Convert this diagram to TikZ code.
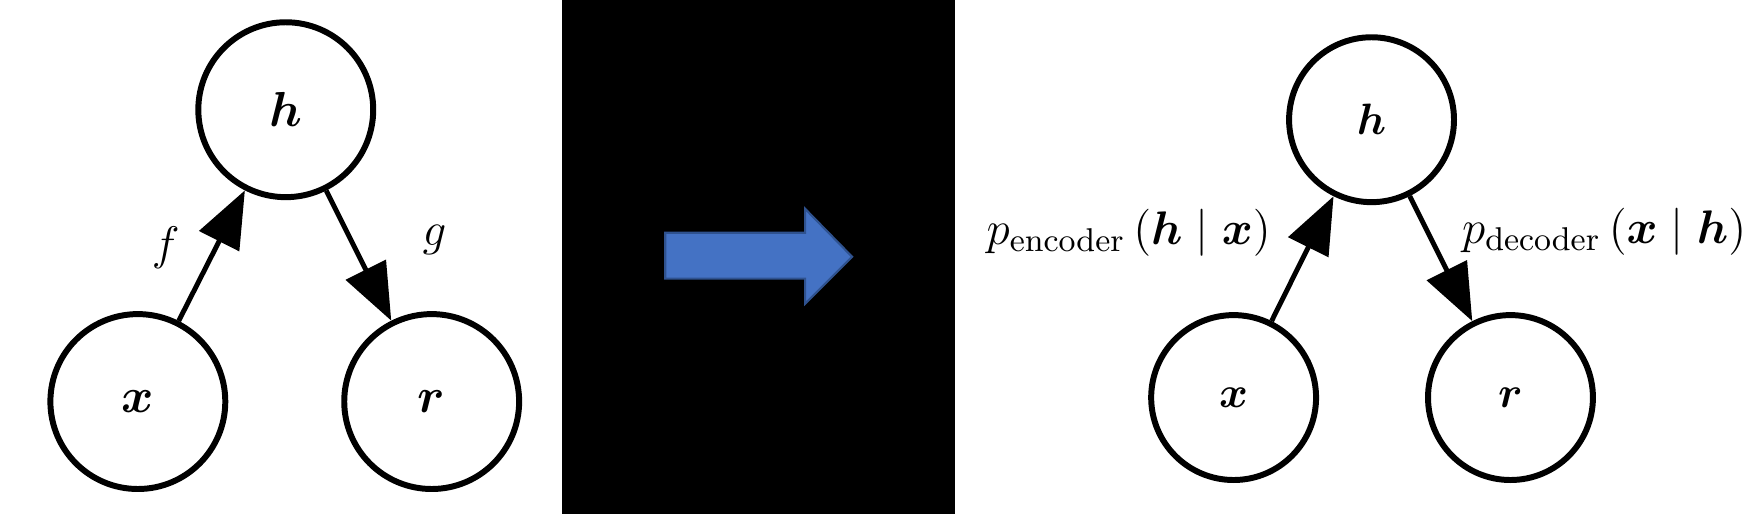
\documentclass[tikz,border=0pt]{standalone}
\usepackage{fix-cm}
\usepackage{amsmath, amssymb}
\usepackage{bm}
\usepackage{tikz}
\usetikzlibrary{arrows.meta, positioning}
\definecolor{shiftblue}{HTML}{4472C4}
\definecolor{shiftline}{HTML}{2F528F}
\tikzstyle{latent}=[circle, draw=black, line width=1.7pt, minimum size=1.75cm, inner sep=0pt]
\tikzstyle{pre}=[<-, line width=1.4pt]
\tikzstyle{post}=[->, line width=1.4pt]

\begin{document}
\begin{tikzpicture}[x=0.01cm, y=-0.01cm, on grid,
    >={Triangle[length=0.57cm, width=0.44cm]},
    every node/.style={font=\fontsize{13.4}{16}\selectfont}]
  % panel and shift arrow
  \fill[white] (0,0) rectangle (1758,515);
  \fill[black] (563,0) rectangle (956,515);
  \filldraw[fill=shiftblue, draw=shiftline, line width=0.6pt]
    (666,233) -- (806,233) -- (806,209) -- (853,257) -- (806,304) -- (806,279) -- (666,279) -- cycle;

  % autoencoder
  \node[latent, font=\fontsize{14}{17}\selectfont] (x1) at (138,402) {$\bm{x}$};
  \node[latent, font=\fontsize{14}{17}\selectfont] (r1) [right=2.94cm of x1] {$\bm{r}$};
  \node[latent, font=\fontsize{14}{17}\selectfont] (h1) [above right=2.92cm and 1.48cm of x1] {$\bm{h}$}
      edge [pre] (x1)
      edge [post] (r1);
  \node (f1) at (166,248) {$f$};
  \node (g1) at (435,240) {$g$};

  % stochastic version
  \node[latent, minimum size=1.65cm, font=\fontsize{12.5}{15}\selectfont] (x2) at (1235,398) {$\bm{x}$};
  \node[latent, minimum size=1.65cm, font=\fontsize{12.5}{15}\selectfont] (r2) [right=2.77cm of x2] {$\bm{r}$};
  \node[latent, minimum size=1.65cm, font=\fontsize{12.5}{15}\selectfont] (h2) [above right=2.78cm and 1.38cm of x2] {$\bm{h}$}
      edge [pre] (x2)
      edge [post] (r2);
  \node (enc) at (1130,233) {$p_{\mathrm{encoder}}\,(\bm{h} \mid \bm{x})$};
  \node (dec) at (1606,232) {$p_{\mathrm{decoder}}\,(\bm{x} \mid \bm{h})$};
\end{tikzpicture}
\end{document}
